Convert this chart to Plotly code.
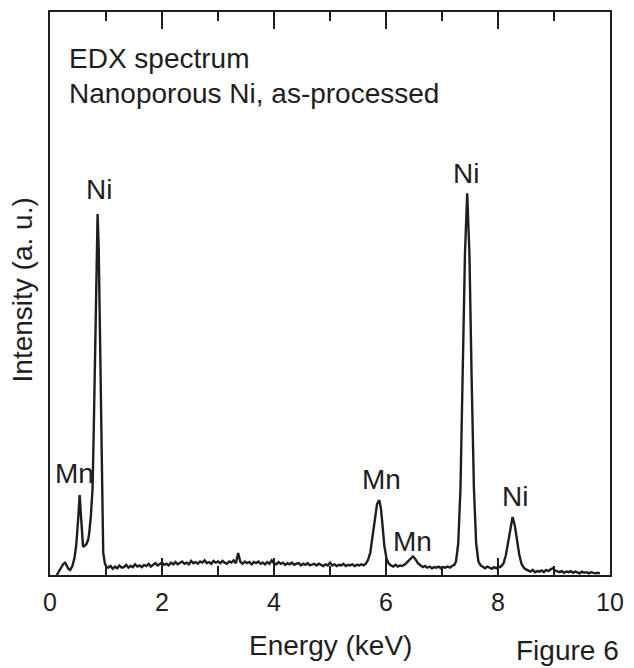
import plotly.graph_objects as go

# Spectrum (energy in keV, intensity in arbitrary units)
energy = [
    # low-energy region: Mn L and Ni L peaks
    0.12, 0.16, 0.20, 0.24, 0.27, 0.30, 0.33, 0.36, 0.40, 0.44, 0.47, 0.50, 0.53, 0.55,
    0.57, 0.59, 0.62, 0.65, 0.68, 0.70, 0.73, 0.76, 0.78, 0.80, 0.82, 0.84, 0.85, 0.87,
    0.89, 0.91, 0.93, 0.95, 0.98, 1.01,
    # background
    1.04, 1.08, 1.12, 1.16, 1.20, 1.24, 1.28, 1.32, 1.36, 1.40,
    1.44, 1.48, 1.52, 1.56, 1.60, 1.64, 1.68, 1.72, 1.76, 1.80,
    1.84, 1.88, 1.92, 1.96, 2.00, 2.04, 2.08, 2.12, 2.16, 2.20,
    2.24, 2.28, 2.32, 2.36, 2.40, 2.44, 2.48, 2.52, 2.56, 2.60,
    2.64, 2.68, 2.72, 2.76, 2.80, 2.84, 2.88, 2.92, 2.96, 3.00,
    3.04, 3.08, 3.12, 3.16, 3.20, 3.24, 3.28, 3.32, 3.36, 3.40,
    3.44, 3.48, 3.52, 3.56, 3.60, 3.64, 3.68, 3.72, 3.76, 3.80,
    3.84, 3.88, 3.92, 3.96, 4.00, 4.04, 4.08, 4.12, 4.16, 4.20,
    4.24, 4.28, 4.32, 4.36, 4.40, 4.44, 4.48, 4.52, 4.56, 4.60,
    4.64, 4.68, 4.72, 4.76, 4.80, 4.84, 4.88, 4.92, 4.96, 5.00,
    5.04, 5.08, 5.12, 5.16, 5.20, 5.24, 5.28, 5.32, 5.36, 5.40,
    5.44, 5.48, 5.52, 5.56, 5.60,
    # Mn K peaks
    5.64, 5.68, 5.72, 5.76, 5.80, 5.84, 5.88, 5.91, 5.94, 5.97, 6.01, 6.05, 6.09, 6.13,
    6.17, 6.21, 6.25, 6.29, 6.34, 6.39, 6.44, 6.48, 6.52, 6.57, 6.62, 6.66, 6.70, 6.74,
    6.78, 6.82, 6.86, 6.90, 6.94, 6.98, 7.02, 7.06, 7.10, 7.14, 7.18, 7.22,
    # Ni K peaks
    7.25, 7.29, 7.33, 7.37, 7.41, 7.45, 7.49, 7.53, 7.57, 7.61, 7.65, 7.69, 7.73, 7.77,
    7.81, 7.85, 7.89, 7.93, 7.97, 8.01, 8.04, 8.07, 8.10, 8.14, 8.18, 8.22, 8.26, 8.30,
    8.34, 8.38, 8.42, 8.46, 8.50, 8.54, 8.58, 8.62, 8.66, 8.70, 8.74, 8.78, 8.82, 8.86,
    8.90, 8.94, 8.98, 9.02, 9.06, 9.10, 9.14, 9.18, 9.22, 9.26, 9.30, 9.34, 9.38, 9.42,
    9.46, 9.50, 9.54, 9.58, 9.62, 9.66, 9.70, 9.74, 9.78, 9.82,
]
intensity = [
    0.0, 0.6, 1.3, 2.0, 2.2, 1.6, 1.1, 0.9, 1.6, 3.2, 5.5, 9.5, 14.2, 11.0,
    7.0, 5.0, 5.2, 5.5, 6.2, 7.4, 10.5, 15.4, 25.0, 38.0, 52.0, 62.5, 64.1, 58.0,
    44.0, 26.0, 10.0, 4.0, 2.0, 1.4,
    1.3, 1.6, 1.1, 1.5, 1.2, 1.7, 1.3, 1.4, 1.8, 1.3,
    1.6, 1.4, 1.9, 1.5, 1.7, 1.4, 1.8, 1.6, 2.0, 1.5,
    1.8, 2.1, 1.7, 1.9, 2.2, 1.8, 2.0, 1.7, 2.2, 1.9,
    2.3, 1.9, 2.1, 2.4, 2.0, 2.2, 1.9, 2.5, 2.1, 2.3,
    2.0, 2.4, 2.2, 2.6, 2.1, 2.3, 2.0, 2.5, 2.2, 2.4,
    2.1, 2.5, 2.2, 2.0, 2.4, 2.2, 2.6, 2.1, 3.9, 2.3,
    2.0, 2.4, 2.1, 2.3, 1.9, 2.3, 2.1, 2.4, 2.0, 2.2,
    1.9, 2.3, 2.0, 2.6, 2.1, 1.9, 2.3, 2.0, 2.2, 1.8,
    2.1, 1.9, 2.2, 1.8, 2.0, 2.1, 1.7, 2.0, 1.8, 2.1,
    1.7, 1.9, 2.0, 1.7, 2.0, 1.8, 1.6, 1.9, 1.7, 2.2,
    1.7, 1.9, 1.6, 1.8, 1.7, 2.0, 1.6, 1.8, 1.7, 1.9,
    1.6, 1.8, 1.7, 1.9, 1.7,
    2.0, 2.7, 4.0, 6.6, 9.8, 12.6, 13.3, 11.8, 8.6, 5.2, 2.9, 2.0, 1.7, 1.5,
    1.8, 1.5, 1.7, 1.6, 1.9, 2.4, 3.0, 3.3, 2.9, 2.1, 1.7, 1.4, 1.6, 1.3,
    1.5, 1.2, 1.4, 1.3, 1.5, 1.2, 1.4, 1.3, 1.5, 1.3, 1.6, 1.8,
    2.4, 5.6, 15.4, 34.5, 57.0, 67.8, 57.0, 34.5, 15.4, 5.6, 2.4, 1.7, 1.4, 1.2,
    1.5, 1.3, 1.1, 1.4, 1.2, 1.5, 1.4, 1.7, 2.1, 3.5, 5.8, 8.7, 10.3, 8.8,
    6.0, 3.6, 2.0, 1.3, 1.0, 0.8, 0.6, 0.9, 0.5, 0.7, 0.6, 0.8, 0.5, 0.9,
    0.7, 1.0, 1.2, 0.8, 0.6, 0.5, 0.7, 0.4, 0.6, 0.5, 0.7, 0.4, 0.6, 0.5,
    0.3, 0.6, 0.4, 0.5, 0.3, 0.5, 0.4, 0.3, 0.4, 0.3,
]

# Peak labels (text centre positions in data units)
label_text = ["Mn", "Ni", "Mn", "Mn", "Ni", "Ni"]
label_x = [0.44, 0.87, 5.92, 6.48, 7.43, 8.31]
label_y = [18.1, 68.5, 17.0, 6.0, 71.4, 13.9]

x_ticks = [0, 2, 4, 6, 8, 10]

FONT = "Liberation Sans, Arial, sans-serif"
INK = "#1e1e1e"

fig = go.Figure()
fig.add_trace(go.Scatter(
    x=energy, y=intensity, mode="lines",
    line=dict(color=INK, width=2.4),
    hoverinfo="skip", showlegend=False,
))

annotations = []
for t, x, y in zip(label_text, label_x, label_y):
    annotations.append(dict(x=x, y=y, xref="x", yref="y", text=t, showarrow=False,
                            font=dict(size=28, color=INK, family=FONT),
                            xanchor="center", yanchor="middle"))

annotations += [
    dict(x=0.031, y=0.9174, xref="paper", yref="paper", text="EDX spectrum",
         showarrow=False, xanchor="left", yanchor="middle",
         font=dict(size=28, color=INK, family=FONT)),
    dict(x=0.031, y=0.8554, xref="paper", yref="paper", text="Nanoporous Ni, as-processed",
         showarrow=False, xanchor="left", yanchor="middle",
         font=dict(size=28, color=INK, family=FONT)),
    dict(x=0.5, y=-0.1257, xref="paper", yref="paper", text="Energy (keV)",
         showarrow=False, xanchor="center", yanchor="middle",
         font=dict(size=28, color=INK, family=FONT)),
    dict(x=-0.0484, y=0.507, xref="paper", yref="paper", text="Intensity (a. u.)",
         showarrow=False, xanchor="center", yanchor="middle", textangle=-90,
         font=dict(size=28, color=INK, family=FONT)),
    dict(x=0.829, y=-0.1645, xref="paper", yref="paper", text="Figure 6",
         showarrow=False, xanchor="left", yanchor="bottom",
         font=dict(size=28, color=INK, family=FONT)),
]

fig.update_layout(
    width=634, height=668,
    margin=dict(l=50, r=16, t=10, b=93),
    paper_bgcolor="white", plot_bgcolor="white",
    font=dict(family=FONT, size=25, color=INK),
    annotations=annotations,
    xaxis=dict(
        range=[0, 10], tickvals=x_ticks, ticktext=[str(v) for v in x_ticks],
        ticks="inside", ticklen=17, tickwidth=1.6, tickcolor=INK,
        minor=dict(dtick=1, ticks="inside", ticklen=9, tickwidth=1.6, tickcolor=INK),
        showline=True, linecolor=INK, linewidth=2, mirror="ticks",
        showgrid=False, zeroline=False,
        tickfont=dict(size=25, color=INK, family=FONT),
        ticklabelstandoff=4,
    ),
    yaxis=dict(
        range=[0, 100], showticklabels=False, ticks="",
        showline=True, linecolor=INK, linewidth=2, mirror=True,
        showgrid=False, zeroline=False,
    ),
)

fig.write_html("out.html")
